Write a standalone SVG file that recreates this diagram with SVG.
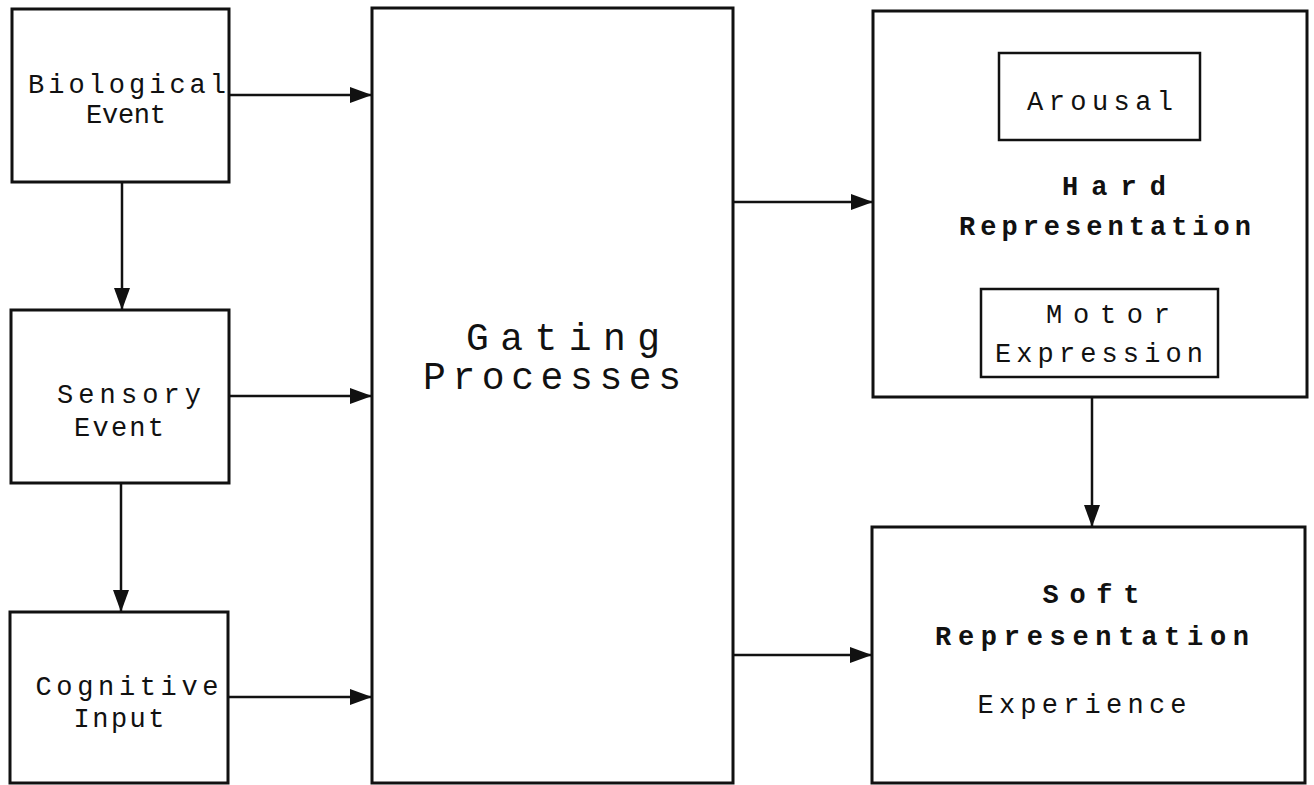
<svg xmlns="http://www.w3.org/2000/svg" width="1314" height="785" viewBox="0 0 1314 785">
  <style>
    .box { fill: #fff; stroke: #111; stroke-width: 3; }
    .inner { fill: #fff; stroke: #111; stroke-width: 2.5; }
    .edge { fill: none; stroke: #111; stroke-width: 2.5; }
    text { font-family: "Liberation Mono", "DejaVu Sans Mono", monospace; fill: #111; text-anchor: middle; }
    .lbl { font-size: 27px; }
    .big { font-size: 38px; }
    .bold { font-size: 27px; font-weight: bold; }
  </style>
  <defs>
    <marker id="arrow" viewBox="0 0 22 16" refX="22" refY="8" markerWidth="22" markerHeight="16" markerUnits="userSpaceOnUse" orient="auto">
      <path d="M0,0 L22,8 L0,16 Z" fill="#111"/>
    </marker>
  </defs>
  <rect width="1314" height="785" fill="#fff"/>

  <!-- arrows between the blocks -->
  <g id="connectors">
    <line class="edge" x1="229" y1="95" x2="372" y2="95" marker-end="url(#arrow)"/>
    <line class="edge" x1="229" y1="396" x2="372" y2="396" marker-end="url(#arrow)"/>
    <line class="edge" x1="228" y1="697" x2="372" y2="697" marker-end="url(#arrow)"/>
    <line class="edge" x1="122" y1="182" x2="122" y2="310" marker-end="url(#arrow)"/>
    <line class="edge" x1="121" y1="483" x2="121" y2="612" marker-end="url(#arrow)"/>
    <line class="edge" x1="733" y1="202" x2="873" y2="202" marker-end="url(#arrow)"/>
    <line class="edge" x1="733" y1="655" x2="872" y2="655" marker-end="url(#arrow)"/>
    <line class="edge" x1="1092" y1="397" x2="1092" y2="527" marker-end="url(#arrow)"/>
  </g>

  <g id="biological-event">
    <rect class="box" x="12" y="9" width="217" height="173"/>
    <text class="lbl" x="127" y="93" textLength="198" lengthAdjust="spacing">Biological</text>
    <text class="lbl" x="126" y="123" textLength="80" lengthAdjust="spacing">Event</text>
  </g>

  <g id="sensory-event">
    <rect class="box" x="11" y="310" width="218" height="173"/>
    <text class="lbl" x="129" y="403" textLength="144" lengthAdjust="spacing">Sensory</text>
    <text class="lbl" x="119" y="436" textLength="90" lengthAdjust="spacing">Event</text>
  </g>

  <g id="cognitive-input">
    <rect class="box" x="10" y="612" width="218" height="171"/>
    <text class="lbl" x="127" y="695" textLength="183" lengthAdjust="spacing">Cognitive</text>
    <text class="lbl" x="119" y="727" textLength="91" lengthAdjust="spacing">Input</text>
  </g>

  <g id="gating-processes">
    <rect class="box" x="372" y="8" width="361" height="775"/>
    <text class="big" x="563" y="350" textLength="194" lengthAdjust="spacing">Gating</text>
    <text class="big" x="552" y="389" textLength="258" lengthAdjust="spacing">Processes</text>
  </g>

  <g id="hard-representation">
    <rect class="box" x="873" y="11" width="434" height="386"/>
    <text class="bold" x="1114" y="195" textLength="104" lengthAdjust="spacing">Hard</text>
    <text class="bold" x="1105" y="235" textLength="292" lengthAdjust="spacing">Representation</text>
    <g id="arousal">
      <rect class="inner" x="999" y="53" width="201" height="87"/>
      <text class="lbl" x="1100" y="110" textLength="146" lengthAdjust="spacing">Arousal</text>
    </g>
    <g id="motor-expression">
      <rect class="inner" x="981" y="289" width="237" height="88"/>
      <text class="lbl" x="1108" y="323" textLength="124" lengthAdjust="spacing">Motor</text>
      <text class="lbl" x="1099" y="362" textLength="208" lengthAdjust="spacing">Expression</text>
    </g>
  </g>

  <g id="soft-representation">
    <rect class="box" x="872" y="527" width="433" height="256"/>
    <text class="bold" x="1091" y="603" textLength="97" lengthAdjust="spacing">Soft</text>
    <text class="bold" x="1092" y="645" textLength="314" lengthAdjust="spacing">Representation</text>
    <text class="lbl" x="1082" y="713" textLength="209" lengthAdjust="spacing">Experience</text>
  </g>
</svg>
